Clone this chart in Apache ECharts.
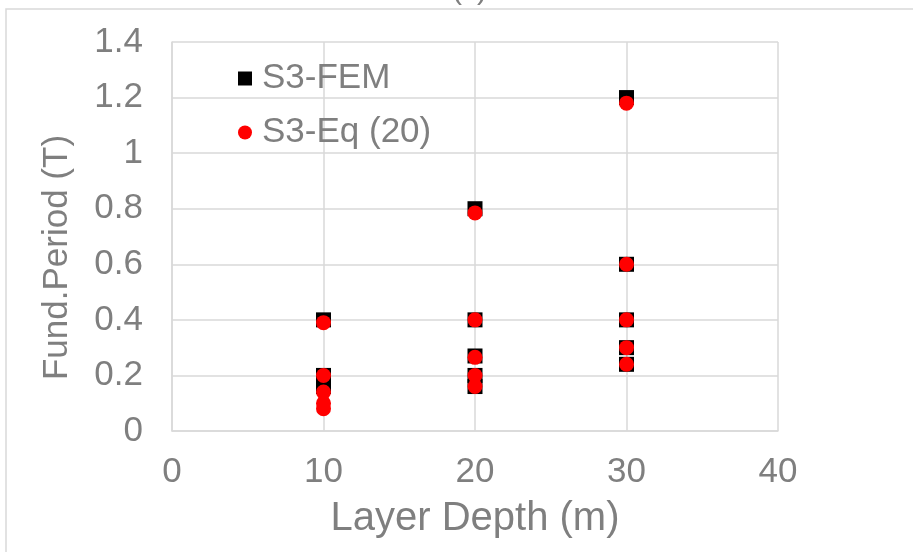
<!DOCTYPE html>
<html>
<head>
<meta charset="utf-8">
<script src="https://cdn.jsdelivr.net/npm/echarts@6/dist/echarts.min.js"></script>
<style>
  html, body { margin: 0; padding: 0; background: #fff; }
  #chart { width: 913px; height: 552px; }
</style>
</head>
<body>
<div id="chart"></div>
<script>
// layer depth (m) and fundamental period (T)
const depthFEM = [10, 10, 10, 20, 20, 20, 20, 20, 30, 30, 30, 30, 30];
const periodFEM = [0.40, 0.20, 0.16, 0.80, 0.40, 0.27, 0.20, 0.16, 1.20, 0.60, 0.40, 0.30, 0.24];
const depthEq = [10, 10, 10, 10, 10, 20, 20, 20, 20, 20, 30, 30, 30, 30, 30];
const periodEq = [0.39, 0.20, 0.14, 0.10, 0.08, 0.785, 0.40, 0.265, 0.20, 0.16, 1.18, 0.60, 0.40, 0.30, 0.24];
const yTicks = ['0', '0.2', '0.4', '0.6', '0.8', '1', '1.2', '1.4'];

const pairs = (xs, ys) => xs.map((x, i) => [x, ys[i]]);
const font = 'Liberation Sans, Arial, sans-serif';
const grey = '#7f7f7f';

const chart = echarts.init(document.getElementById('chart'));
chart.setOption({
  animation: false,
  textStyle: { fontFamily: font },
  grid: { left: 172, right: 135, top: 42, bottom: 121 },
  graphic: [
    { type: 'rect', shape: { x: 6, y: 9, width: 920, height: 560 },
      style: { fill: 'none', stroke: '#d9d9d9', lineWidth: 1.5 } },
    { type: 'text', left: 452, top: -24,
      style: { text: '(c)', font: '30px ' + font, fill: grey } }
  ],
  legend: {
    orient: 'vertical', left: 233, top: 56, itemGap: 19,
    itemWidth: 14, itemHeight: 14,
    textStyle: { fontSize: 35, color: grey, fontFamily: font, padding: [0, 0, 0, 5] },
    data: [
      { name: 'S3-FEM', icon: 'rect', itemStyle: { color: '#000', opacity: 1 } },
      { name: 'S3-Eq (20)', icon: 'circle', itemStyle: { color: '#ff0000', opacity: 1 } }
    ]
  },
  xAxis: {
    type: 'value', min: 0, max: 40, interval: 10,
    name: 'Layer Depth (m)', nameLocation: 'middle', nameGap: 68,
    nameTextStyle: { fontSize: 40, color: grey, fontFamily: font },
    axisLine: { lineStyle: { color: '#d9d9d9', width: 1.5 } },
    axisTick: { show: false },
    axisLabel: { fontSize: 35, color: grey, margin: 24 },
    splitLine: { show: true, lineStyle: { color: '#d9d9d9', width: 1.5 } }
  },
  yAxis: {
    type: 'value', min: 0, max: 1.4, interval: 0.2,
    name: 'Fund.Period (T)', nameLocation: 'middle', nameGap: 97,
    nameTextStyle: { fontSize: 35, color: grey, fontFamily: font, padding: [0, 42, 0, 0] },
    axisLine: { show: true, lineStyle: { color: '#d9d9d9', width: 1.5 } },
    axisTick: { show: false },
    axisLabel: { fontSize: 35, color: grey, margin: 29,
      formatter: (v) => yTicks[Math.round(v / 0.2)] },
    splitLine: { show: true, lineStyle: { color: '#d9d9d9', width: 1.5 } }
  },
  series: [
    { name: 'S3-FEM', type: 'scatter', symbol: 'rect', symbolSize: 15,
      itemStyle: { color: '#000', opacity: 1 }, data: pairs(depthFEM, periodFEM) },
    { name: 'S3-Eq (20)', type: 'scatter', symbol: 'circle', symbolSize: 15,
      itemStyle: { color: '#ff0000', opacity: 1 }, data: pairs(depthEq, periodEq) }
  ]
});
</script>
</body>
</html>
